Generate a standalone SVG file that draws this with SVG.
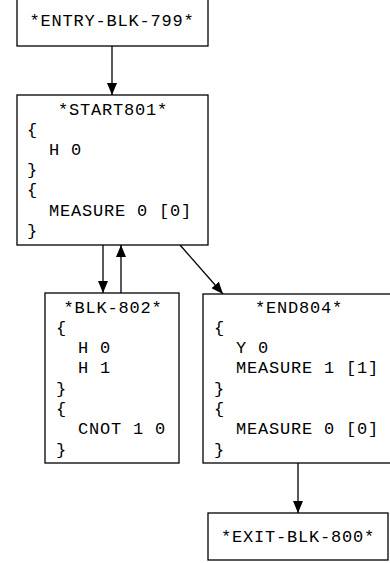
<svg xmlns="http://www.w3.org/2000/svg" width="390" height="563" viewBox="0 0 390 563">
<style>
.box{fill:#fff;stroke:#000;stroke-width:1.3}
text{font-family:"Liberation Mono","DejaVu Sans Mono",monospace;font-size:17px;letter-spacing:0.8px;fill:#000}
.t{text-anchor:middle}
.e{stroke:#000;stroke-width:1.3;fill:none;marker-end:url(#ah)}
</style>
<defs>
<marker id="ah" markerWidth="12" markerHeight="10" refX="12" refY="5" orient="auto" markerUnits="userSpaceOnUse">
<path d="M0,0 L12,5 L0,10 Z" fill="#000"/>
</marker>
</defs>
<rect width="390" height="563" fill="#fff"/>
<g id="connectors">
<line class="e" x1="112" y1="46" x2="112" y2="95"/>
<line class="e" x1="103" y1="245" x2="103" y2="293"/>
<line class="e" x1="121" y1="293" x2="121" y2="245"/>
<line class="e" x1="180" y1="245" x2="223" y2="294"/>
<line class="e" x1="298" y1="463" x2="298" y2="513"/>
</g>
<g id="entry">
<rect class="box" x="17" y="-2" width="191" height="48"/>
<text class="t" x="112" y="26">*ENTRY-BLK-799*</text>
</g>
<g id="start">
<rect class="box" x="17" y="95" width="191" height="150"/>
<text class="t" x="113" y="115">*START801*</text>
<text x="27" y="135">{</text>
<text x="49" y="155">H 0</text>
<text x="27" y="175">}</text>
<text x="27" y="195">{</text>
<text x="49" y="216">MEASURE 0 [0]</text>
<text x="27" y="236">}</text>
</g>
<g id="blk802">
<rect class="box" x="45" y="293" width="134" height="170"/>
<text class="t" x="113" y="313">*BLK-802*</text>
<text x="56" y="333">{</text>
<text x="78" y="353">H 0</text>
<text x="78" y="373">H 1</text>
<text x="56" y="394">}</text>
<text x="56" y="414">{</text>
<text x="78" y="434">CNOT 1 0</text>
<text x="56" y="455">}</text>
</g>
<g id="end804">
<rect class="box" x="203" y="294" width="192" height="169"/>
<text class="t" x="299" y="313">*END804*</text>
<text x="214" y="333">{</text>
<text x="236" y="353">Y 0</text>
<text x="236" y="373">MEASURE 1 [1]</text>
<text x="214" y="394">}</text>
<text x="214" y="414">{</text>
<text x="236" y="434">MEASURE 0 [0]</text>
<text x="214" y="455">}</text>
</g>
<g id="exit">
<rect class="box" x="208" y="513" width="180" height="47"/>
<text class="t" x="298" y="542">*EXIT-BLK-800*</text>
</g>
</svg>
